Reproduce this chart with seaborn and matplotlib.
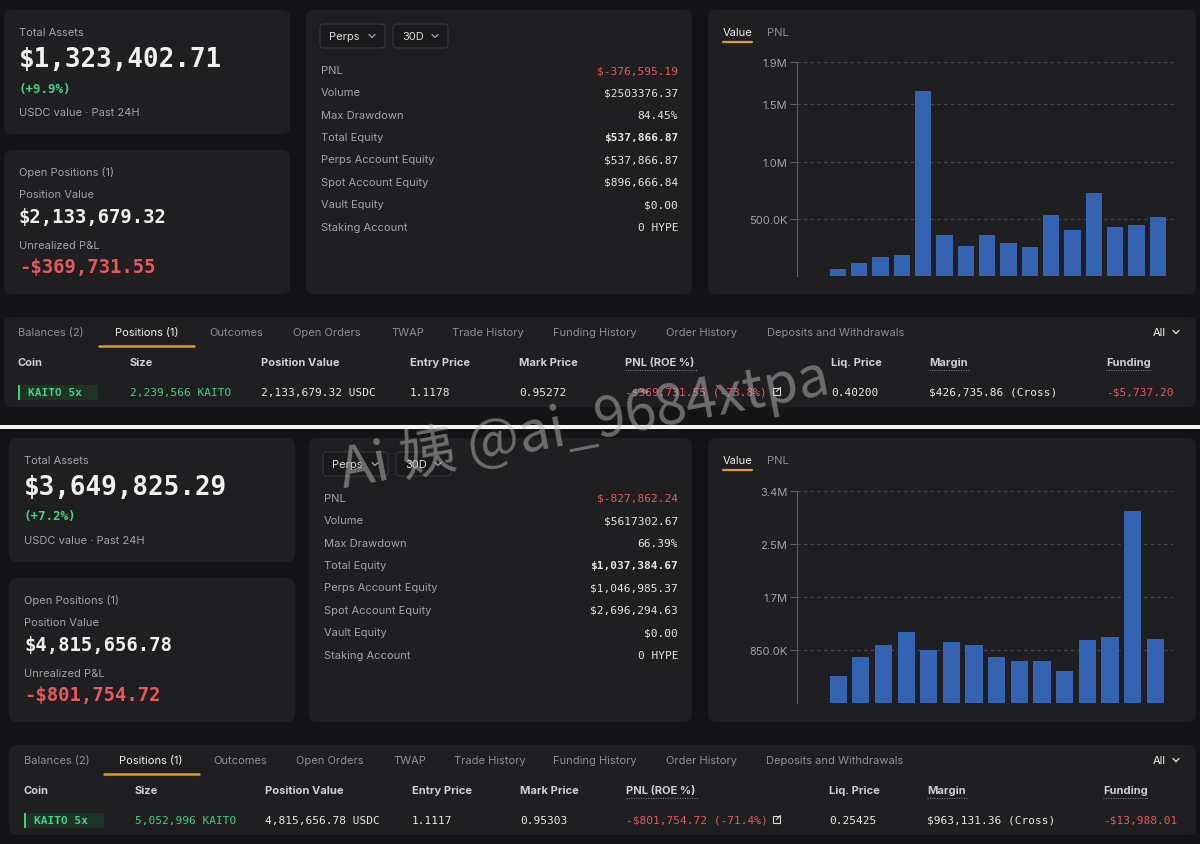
import numpy as np
import pandas as pd
import seaborn as sns
import matplotlib.pyplot as plt
from matplotlib.patches import FancyBboxPatch, Rectangle

W, H = 1200, 845

top_values = [58e3, 111e3, 169e3, 184e3, 1620e3, 359e3, 265e3, 359e3,
              286e3, 257e3, 534e3, 399e3, 726e3, 426e3, 443e3, 513e3]
bottom_values = [426e3, 745e3, 927e3, 1145e3, 857e3, 974e3, 927e3, 735e3,
                 676e3, 676e3, 506e3, 1017e3, 1060e3, 3072e3, 1028e3]
top_ticks = [500e3, 1.0e6, 1.5e6, 1.87e6]
top_tick_labels = ["500.0K", "1.0M", "1.5M", "1.9M"]
bottom_ticks = [850e3, 1.7e6, 2.55e6, 3.4e6]
bottom_tick_labels = ["850.0K", "1.7M", "2.5M", "3.4M"]

# account summary
top_assets = ["$1,323,402.71", "(+9.9%)", "$2,133,679.32", "-$369,731.55"]
bottom_assets = ["$3,649,825.29", "(+7.2%)", "$4,815,656.78", "-$801,754.72"]
summary_labels = ["PNL", "Volume", "Max Drawdown", "Total Equity",
                  "Perps Account Equity", "Spot Account Equity",
                  "Vault Equity", "Staking Account"]
top_summary = ["$-376,595.19", "$2503376.37", "84.45%", "$537,866.87",
               "$537,866.87", "$896,666.84", "$0.00", "0 HYPE"]
bottom_summary = ["$-827,862.24", "$5617302.67", "66.39%", "$1,037,384.67",
                  "$1,046,985.37", "$2,696,294.63", "$0.00", "0 HYPE"]

# positions table
tabs = ["Balances (2)", "Positions (1)", "Outcomes", "Open Orders", "TWAP",
        "Trade History", "Funding History", "Order History",
        "Deposits and Withdrawals"]
headers = ["Coin", "Size", "Position Value", "Entry Price", "Mark Price",
           "PNL (ROE %)", "Liq. Price", "Margin", "Funding"]
top_row = ["KAITO 5x", "2,239,566 KAITO", "2,133,679.32 USDC", "1.1178",
           "0.95272", "-$369,731.55 (-73.8%)", "0.40200",
           "$426,735.86 (Cross)", "-$5,737.20"]
bottom_row = ["KAITO 5x", "5,052,996 KAITO", "4,815,656.78 USDC", "1.1117",
              "0.95303", "-$801,754.72 (-71.4%)", "0.25425",
              "$963,131.36 (Cross)", "-$13,988.01"]

BG = "#141416"
PANEL = "#1f1f22"
WHITE = "#f0f0f0"
GREY = "#a2a2a8"
DIM = "#8e8e94"
RED = "#e8585f"
GREEN = "#45d184"
BLUE = "#3563b3"
ORANGE = "#e39a2e"
MONO = ["DejaVu Sans Mono"]

sns.set_theme(style="dark")
plt.rcParams["font.family"] = ["Inter", "DejaVu Sans"]

fig = plt.figure(figsize=(W / 100, H / 100), dpi=100, facecolor=BG)
ov = fig.add_axes([0, 0, 1, 1], zorder=0)
ov.set_xlim(0, W)
ov.set_ylim(H, 0)
ov.axis("off")


def panel(x0, y0, x1, y1, color=PANEL, r=8):
    ov.add_patch(FancyBboxPatch((x0, y0), x1 - x0, y1 - y0,
                                boxstyle=f"round,pad=0,rounding_size={r}",
                                fc=color, ec="none", zorder=1))


def txt(x, y, s, size=8, color=GREY, ha="left", weight="normal", family=None):
    ov.text(x, y, s, fontsize=size, color=color, ha=ha, va="center",
            weight=weight, family=family, zorder=3)


def chevron(x, y, color=GREY):
    ov.plot([x - 3, x, x + 3], [y - 1.5, y + 1.5, y - 1.5], color=color,
            lw=0.9, zorder=3, solid_capstyle="round")


def bar_chart(values, ticks, tick_labels, box, xlim):
    x0, y0, x1, y1 = box
    ax = fig.add_axes([x0 / W, 1 - y1 / H, (x1 - x0) / W, (y1 - y0) / H], zorder=2)
    df = pd.DataFrame({"day": range(len(values)), "value": values})
    sns.barplot(data=df, x="day", y="value", color=BLUE, saturation=1,
                width=0.76, ax=ax, zorder=3, edgecolor="none", linewidth=0)
    ax.set_facecolor("none")
    ax.set_xlim(*xlim)
    ax.set_ylim(0, ticks[-1])
    ax.set_xticks([])
    ax.set_yticks(ticks)
    ax.set_yticklabels(tick_labels)
    ax.set_xlabel("")
    ax.set_ylabel("")
    ax.tick_params(axis="y", colors="#5c5c62", labelcolor=GREY, labelsize=8,
                   length=5, width=0.8, pad=2, left=True)
    for t in ticks + [0]:
        ax.axhline(t, color="#46464c", lw=0.8, ls=(0, (3, 3)), zorder=1)
    for side in ["top", "right", "bottom"]:
        ax.spines[side].set_visible(False)
    ax.spines["left"].set_color("#5c5c62")
    ax.spines["left"].set_linewidth(0.8)
    ax.grid(False)


def draw_screen(dy, dx, dxc, assets, summary, row, values, ticks, tick_labels,
                chart_box, xlim, tab_x, col_x, ul_x):
    # left cards
    panel(4 + dx, 11 + dy, 290 + dx, 135 + dy)
    panel(4 + dx, 151 + dy, 290 + dx, 295 + dy)
    lx = 19 + dx
    txt(lx, 33 + dy, "Total Assets")
    txt(lx, 60 + dy, assets[0], size=18.7, color=WHITE, weight="bold", family=MONO)
    txt(lx, 89 + dy, assets[1], size=9, color=GREEN, weight="bold", family=MONO)
    txt(lx, 113 + dy, "USDC value · Past 24H")
    txt(lx, 173 + dy, "Open Positions (1)")
    txt(lx, 195 + dy, "Position Value")
    txt(lx, 218 + dy, assets[2], size=13.6, color=WHITE, weight="bold", family=MONO)
    txt(lx, 246 + dy, "Unrealized P&L")
    txt(lx, 268 + dy, assets[3], size=13.6, color=RED, weight="bold", family=MONO)

    # summary card
    panel(306 + dxc, 11 + dy, 692, 295 + dy)
    for bx0, bx1, lab in [(320, 385, "Perps"), (393, 448, "30D")]:
        ov.add_patch(FancyBboxPatch((bx0 + dxc, 25 + dy), bx1 - bx0, 24,
                                    boxstyle="round,pad=0,rounding_size=4",
                                    fc="#1a1a1d", ec="#38383d", lw=0.8, zorder=2))
        txt(bx0 + dxc + 9, 37 + dy, lab, color="#dcdcdc")
        chevron(bx1 + dxc - 13, 37 + dy)
    for i, (lab, val) in enumerate(zip(summary_labels, summary)):
        y = 71 + i * 22.37 + dy
        txt(321 + dxc, y, lab)
        color = RED if i == 0 else "#e4e4e4"
        txt(678, y, val, color=color, ha="right", family=MONO,
            weight="bold" if i == 3 else "normal")

    # chart card
    panel(708, 11 + dy, 1196, 295 + dy)
    txt(723, 33 + dy, "Value", color=WHITE)
    ov.plot([723, 752], [42.5 + dy, 42.5 + dy], color=ORANGE, lw=1.6, zorder=3)
    txt(767, 33 + dy, "PNL", color=DIM)
    bar_chart(values, ticks, tick_labels, chart_box, xlim)

    # positions table
    panel(4 + dx, 318 + dy, 1196, 408 + dy)
    for i, (x, lab) in enumerate(zip(tab_x, tabs)):
        txt(x, 333 + dy, lab, color=WHITE if i == 1 else DIM)
    ov.plot(ul_x, [347 + dy, 347 + dy], color=ORANGE, lw=1.8, zorder=3)
    txt(1153, 333 + dy, "All", color=WHITE)
    chevron(1176, 333 + dy, color=WHITE)
    for i, (x, lab) in enumerate(zip(col_x, headers)):
        txt(x, 363 + dy, lab, color="#cfcfd2", weight="bold")
    # dotted underlines on sortable headers
    for x, w in [(col_x[5], 73), (col_x[7], 40), (col_x[8], 46)]:
        ov.plot([x, x + w], [371 + dy, 371 + dy], color="#8a8a90", lw=0.7,
                ls=(0, (1, 1.5)), zorder=3)
    # coin chip
    ov.add_patch(Rectangle((col_x[0], 386 + dy), 80, 15, fc="#1c3326",
                           ec="none", zorder=2))
    ov.add_patch(Rectangle((col_x[0], 386 + dy), 2, 15, fc="#3ccf7a",
                           ec="none", zorder=3))
    txt(col_x[0] + 10, 393 + dy, row[0], color=GREEN, weight="bold", family=MONO)
    colors = [GREEN, GREEN, "#e8e8e8", "#e8e8e8", "#e8e8e8", RED,
              "#e8e8e8", "#e8e8e8", RED]
    for i in range(1, len(row)):
        txt(col_x[i], 393 + dy, row[i], color=colors[i], family=MONO)
    # external link icon
    ov.add_patch(Rectangle((773, 389 + dy), 7, 7, fc="none", ec="#d8d8d8",
                           lw=0.8, zorder=3))
    ov.plot([776.5, 780.5], [392.5 + dy, 388.5 + dy], color="#d8d8d8", lw=0.8, zorder=3)


draw_screen(0, 0, 0, top_assets, top_summary, top_row, top_values,
            top_ticks, top_tick_labels, (797, 63, 1175, 277), (-1.906, 15.8),
            [18, 115, 209, 293, 391, 452, 553, 666, 767],
            [18, 130, 261, 410, 519, 625, 831, 929, 1106],
            [99, 194])
draw_screen(428, 5, 3, bottom_assets, bottom_summary, bottom_row, bottom_values,
            bottom_ticks, bottom_tick_labels, (797, 492, 1173, 704), (-1.818, 14.78),
            [24, 119, 213, 296, 393, 454, 553, 666, 766],
            [24, 135, 265, 412, 520, 626, 829, 927, 1103],
            [104, 199])

# white divider between the two screenshots
ov.add_patch(Rectangle((0, 426), W, 4, fc="#f4f4f4", ec="none", zorder=2))

# handwritten watermark
ov.text(584, 424, "Ai 姨 @ai_9684xtpa", fontsize=40, color="#bdbdbd", alpha=0.5,
        rotation=11, ha="center", va="center", zorder=5,
        family=["Noto Sans CJK SC", "DejaVu Sans"], weight="light")

fig.savefig("out.png", dpi=100, facecolor=BG)
